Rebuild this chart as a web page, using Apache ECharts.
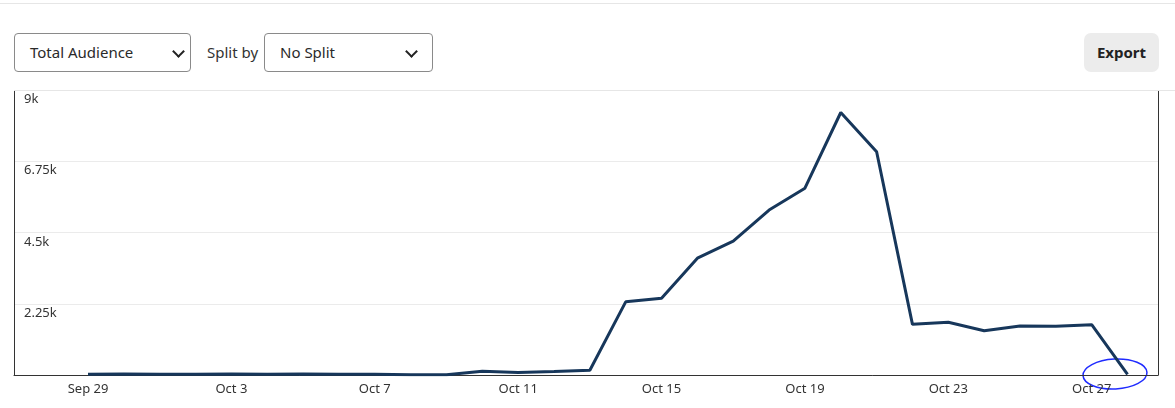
<!DOCTYPE html>
<html lang="en">
<head>
    <meta charset="UTF-8">
    <title>Total Audience</title>
    <script src="https://cdn.jsdelivr.net/npm/echarts@6/dist/echarts.min.js"></script>
    <style>
        body { margin: 0; width: 1175px; height: 408px; overflow: hidden; background: #fff;
               font-family: "Noto Sans", "Open Sans", sans-serif; position: relative; }
        .topline { position: absolute; left: 0; top: 3px; width: 1175px; height: 1px; background: #e6e6e6; }
        .sep { position: absolute; left: 14px; top: 90px; width: 1161px; height: 1px; background: #e6e6e6; }
        .select { position: absolute; top: 33px; height: 39px; border: 1px solid #8a8a8a; border-radius: 4px;
                  box-sizing: border-box; font-size: 15px; color: #2a2a2a; line-height: 37px; padding-left: 15px; }
        .select .chev { position: absolute; top: 13px; width: 7px; height: 7px;
                        border-right: 2.5px solid #222; border-bottom: 2.5px solid #222; transform: rotate(45deg); }
        .label { position: absolute; top: 34px; line-height: 37px; font-size: 15px; color: #333; }
        .btn { position: absolute; left: 1084px; top: 33px; width: 75px; height: 39px; background: #ececec;
               border-radius: 7px; font-size: 15px; font-weight: bold; color: #222; text-align: center; line-height: 39px; }
        #main { position: absolute; left: 0; top: 90px; width: 1175px; height: 318px; }
    </style>
</head>
<body>
<div class="topline"></div>
<div class="select" style="left:14px;width:177px;">Total Audience<span class="chev" style="left:159px;"></span></div>
<div class="label" style="left:207px;">Split by</div>
<div class="select" style="left:264px;width:169px;">No Split<span class="chev" style="left:142px;"></span></div>
<div class="btn">Export</div>
<div id="main"></div>
<div class="sep"></div>

<script type="text/javascript">
    // dates of each point, Sep 29 .. Oct 28
    var days = ['Sep 29', 'Sep 30', 'Oct 1', 'Oct 2', 'Oct 3', 'Oct 4', 'Oct 5', 'Oct 6', 'Oct 7', 'Oct 8',
                'Oct 9', 'Oct 10', 'Oct 11', 'Oct 12', 'Oct 13', 'Oct 14', 'Oct 15', 'Oct 16', 'Oct 17', 'Oct 18',
                'Oct 19', 'Oct 20', 'Oct 21', 'Oct 22', 'Oct 23', 'Oct 24', 'Oct 25', 'Oct 26', 'Oct 27', 'Oct 28'];
    // total audience per day
    var audience = [20, 30, 25, 20, 30, 25, 30, 25, 20, 10,
                    5, 120, 80, 110, 150, 2310, 2420, 3690, 4230, 5210,
                    5900, 8290, 7050, 1600, 1665, 1400, 1550, 1540, 1590, 20];
    // x tick positions (day index) and y tick labels
    var xTicks = [0, 4, 8, 12, 16, 20, 24, 28];
    var yTicks = [2250, 4500, 6750, 9000];
    var yTickLabels = ['2.25k', '4.5k', '6.75k', '9k'];

    var seriesData = [];
    for (var i = 0; i < audience.length; i++) {
        seriesData.push([i, audience[i]]);
    }

    var myChart = echarts.init(document.getElementById('main'));

    var option = {
        animation: false,
        grid: { left: 14, right: 17, top: 0, bottom: 33, containLabel: false },
        xAxis: {
            type: 'value',
            min: -2.065,
            max: 29.85,
            axisLine: { show: true, onZero: false, lineStyle: { color: '#333', width: 1 } },
            axisTick: { show: false },
            splitLine: { show: false },
            axisLabel: {
                customValues: xTicks,
                formatter: function (v) { return days[Math.round(v)] || ''; },
                color: '#333',
                fontSize: 13,
                fontFamily: 'Noto Sans',
                margin: 8
            }
        },
        yAxis: [{
            type: 'value',
            min: 0,
            max: 9000,
            interval: 2250,
            axisLine: { show: true, onZero: false, lineStyle: { color: '#333', width: 1 } },
            axisTick: { show: false },
            splitLine: { show: true, lineStyle: { color: '#ebebeb', width: 1 } },
            axisLabel: {
                inside: true,
                margin: 10,
                align: 'left',
                verticalAlign: 'top',
                padding: [3, 0, 0, 0],
                color: '#333',
                fontSize: 13,
                fontFamily: 'Noto Sans',
                formatter: function (v) {
                    var k = yTicks.indexOf(v);
                    return k < 0 ? '' : yTickLabels[k];
                }
            }
        }, {
            type: 'value',
            position: 'right',
            min: 0,
            max: 9000,
            interval: 2250,
            axisLine: { show: true, onZero: false, lineStyle: { color: '#333', width: 1 } },
            axisTick: { show: false },
            axisLabel: { show: false },
            splitLine: { show: false }
        }],
        series: [{
            name: 'Total Audience',
            type: 'line',
            data: seriesData,
            showSymbol: false,
            symbol: 'none',
            lineStyle: { color: '#17375b', width: 3 }
        }],
        // hand-drawn highlight around the last point
        graphic: [{
            type: 'ellipse',
            shape: { cx: 1115, cy: 284, rx: 32, ry: 15 },
            rotation: 0.05,
            originX: 1115, originY: 284,
            style: { fill: 'none', stroke: '#1f2bff', lineWidth: 1.5 }
        }]
    };

    myChart.setOption(option);
</script>
</body>
</html>
